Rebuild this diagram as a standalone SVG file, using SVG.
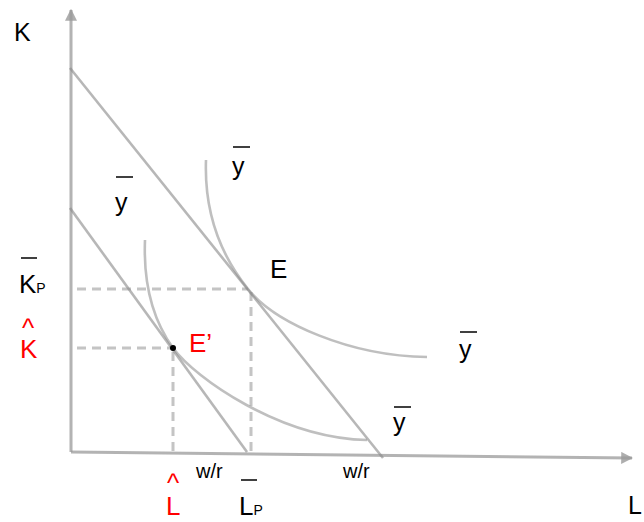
<svg xmlns="http://www.w3.org/2000/svg" width="644" height="522" viewBox="0 0 644 522">
<style>
.ax{stroke:#9a9a9a;stroke-opacity:0.75;stroke-width:3;fill:none}
.ln{stroke:#8a8a8a;stroke-opacity:0.62;stroke-width:2.6;fill:none}
.iq{stroke:#8a8a8a;stroke-opacity:0.55;stroke-width:2.6;fill:none}
.ds{stroke:#c4c4c4;stroke-width:3;stroke-dasharray:9 6;fill:none}
.ol{stroke:#000;stroke-width:1.5}
.t{font-family:"Liberation Sans",Arial,sans-serif;fill:#000}
.r{fill:#ff0000}
</style>
<defs>
<marker id="ah" viewBox="0 0 10 10" refX="9" refY="5" markerWidth="4" markerHeight="4" orient="auto" markerUnits="strokeWidth">
<path d="M0,0 L10,5 L0,10 Z" fill="#9a9a9a" fill-opacity="0.8"/>
</marker>
</defs>
<g id="axes">
<line class="ax" x1="71" y1="452" x2="71" y2="10" marker-end="url(#ah)"/>
<line class="ax" x1="71" y1="452" x2="632" y2="458" marker-end="url(#ah)"/>
</g>
<g id="connectors">
<line class="ds" x1="77" y1="289" x2="248" y2="289"/>
<line class="ds" x1="251" y1="292" x2="251" y2="452"/>
<line class="ds" x1="77" y1="348" x2="172" y2="348"/>
<line class="ds" x1="173" y1="352" x2="173" y2="452"/>
<line id="isocost-high" class="ln" x1="70" y1="68" x2="383" y2="458"/>
<line id="isocost-low" class="ln" x1="70" y1="208" x2="247" y2="452"/>
<path id="isoquant-high" class="iq" d="M206,160 C204,215 223,258 248,289 C275,323 350,356 427,357"/>
<path id="isoquant-low" class="iq" d="M145,240 C143,290 155,323 173,348 C195,378 280,438 367,440"/>
</g>
<g id="point-E">
<text class="t" x="270" y="278" font-size="26">E</text>
</g>
<g id="point-E2">
<circle cx="173" cy="348" r="3" fill="#000"/>
<text class="t r" x="189" y="352" font-size="26">E’</text>
</g>
<g id="axis-labels">
<text class="t" x="14" y="41" font-size="25">K</text>
<text class="t" x="628" y="514" font-size="25">L</text>
</g>
<g id="labels-y">
<line class="ol" x1="233" y1="147" x2="250" y2="147"/>
<text class="t" x="232" y="175" font-size="25">y</text>
<line class="ol" x1="116" y1="177" x2="133" y2="177"/>
<text class="t" x="115" y="211" font-size="25">y</text>
<line class="ol" x1="460" y1="332" x2="477" y2="332"/>
<text class="t" x="459" y="358" font-size="25">y</text>
<line class="ol" x1="394" y1="407" x2="411" y2="407"/>
<text class="t" x="393" y="431" font-size="25">y</text>
</g>
<g id="label-KP">
<line class="ol" x1="21" y1="258" x2="37" y2="258"/>
<text class="t" x="19" y="293" font-size="26">K<tspan font-size="14">P</tspan></text>
</g>
<g id="label-Khat">
<text class="t r" font-size="26"><tspan x="22" y="337">^</tspan><tspan x="20" y="358">K</tspan></text>
</g>
<g id="label-Lhat">
<text class="t r" font-size="26"><tspan x="167" y="492">^</tspan><tspan x="166" y="515">L</tspan></text>
</g>
<g id="label-LP">
<line class="ol" x1="241" y1="480" x2="257" y2="480"/>
<text class="t" x="239" y="515" font-size="26">L<tspan font-size="14">P</tspan></text>
</g>
<g id="labels-wr">
<text class="t" x="196" y="478" font-size="20">w/r</text>
<text class="t" x="343" y="478" font-size="20">w/r</text>
</g>
</svg>
